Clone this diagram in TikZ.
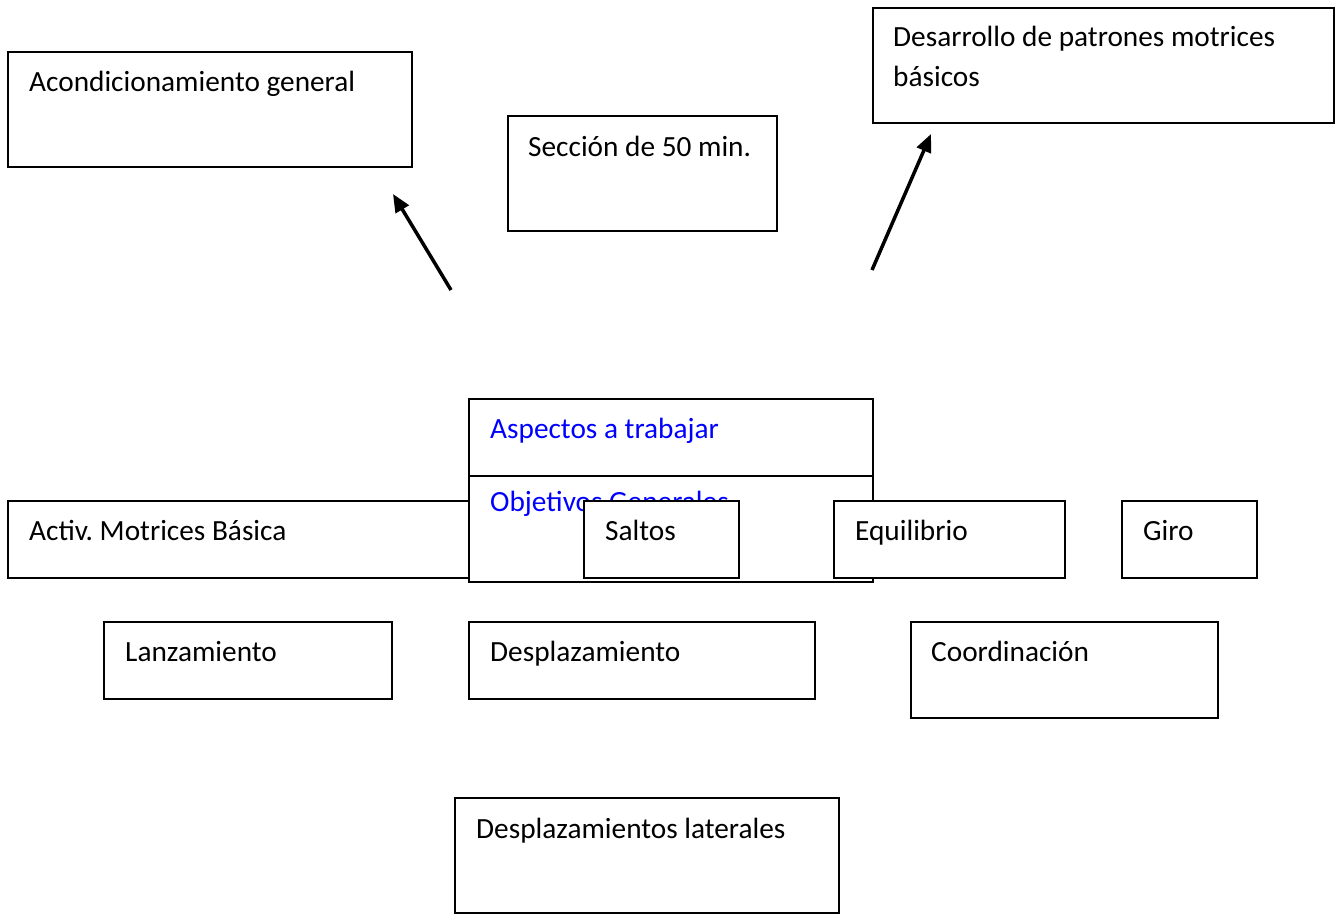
\documentclass[tikz,border=0pt]{standalone}
\usepackage{fontspec}
\setmainfont{Carlito}
\usetikzlibrary{arrows.meta}
\frenchspacing
\tikzset{
  box/.style={draw=black, line width=2pt, fill=white, anchor=north west, inner sep=0pt, outer sep=0pt},
  txt/.style={anchor=base west, inner sep=0pt, font=\fontsize{29.3}{40}\selectfont, align=left},
  bluetxt/.style={txt, text=blue},
  arr/.style={line width=3.5pt, -{Triangle[length=18pt,width=15pt]}}
}
\begin{document}
\begin{tikzpicture}[x=1pt,y=-1pt]
\useasboundingbox (0,0) rectangle (1343,915);
% top row
\node[box, minimum width=404, minimum height=115] (acond) at (8,52) {};
\node[txt] (acondT) at (29,92) {Acondicionamiento general};
\node[box, minimum width=269, minimum height=115] (seccion) at (508,116) {};
\node[txt] (seccionT) at (528,157) {Sección de 50 min.};
\node[box, minimum width=461, minimum height=115] (desarr) at (873,8) {};
\node[txt] (desarrT1) at (893,47) {Desarrollo de patrones motrices};
\node[txt] (desarrT2) at (893,87) {básicos};
% arrows
\coordinate (a1s) at (451,290);
\coordinate (a1e) at (393,194);
\coordinate (a2s) at (872,270);
\coordinate (a2e) at (931,134);
\draw[arr] (a1s) -- (a1e);
\draw[arr] (a2s) -- (a2e);
% middle row
\node[box, minimum width=470, minimum height=77] (activ) at (8,501) {};
\node[txt] (activT) at (29,540) {Activ. Motrices Básica};
\node[box, minimum width=404, minimum height=183] (aspect) at (469,399) {};
\draw[line width=2pt] (aspect.west |- 0,476) coordinate (divL) -- (aspect.east |- 0,476) coordinate (divR);
\node[bluetxt] (aspectT) at (490,438) {Aspectos a trabajar};
\node[bluetxt] (objT) at (490,511) {Objetivos Generales};
\node[box, minimum width=155, minimum height=77] (saltos) at (584,501) {};
\node[txt] (saltosT) at (605,540) {Saltos};
\node[box, minimum width=231, minimum height=77] (equil) at (834,501) {};
\node[txt] (equilT) at (855,540) {Equilibrio};
\node[box, minimum width=135, minimum height=77] (giro) at (1122,501) {};
\node[txt] (giroT) at (1143,540) {Giro};
% lower row
\node[box, minimum width=288, minimum height=77] (lanz) at (104,622) {};
\node[txt] (lanzT) at (125,661) {Lanzamiento};
\node[box, minimum width=346, minimum height=77] (despl) at (469,622) {};
\node[txt] (desplT) at (490,661) {Desplazamiento};
\node[box, minimum width=307, minimum height=96] (coord) at (911,622) {};
\node[txt] (coordT) at (931,661) {Coordinación};
% bottom
\node[box, minimum width=384, minimum height=115] (lat) at (455,798) {};
\node[txt] (latT) at (476,838) {Desplazamientos laterales};
\end{tikzpicture}
\end{document}
